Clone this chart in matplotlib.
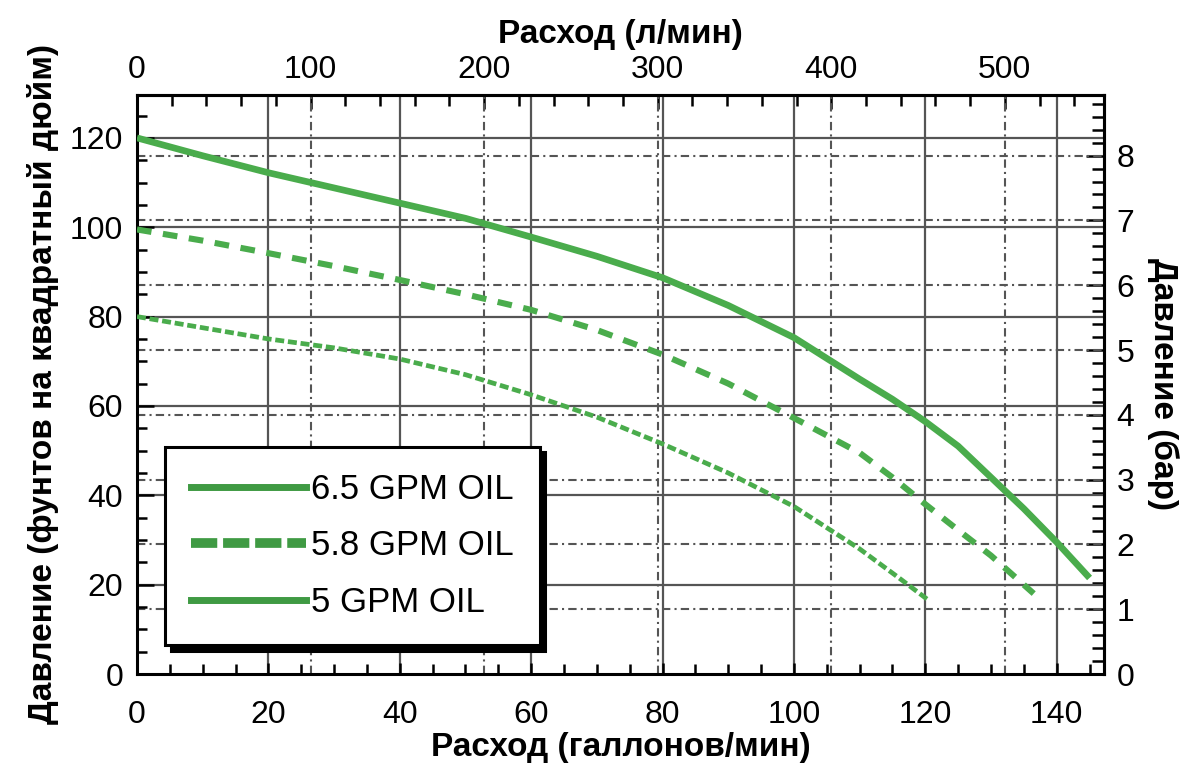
import matplotlib
matplotlib.use("Agg")
import matplotlib.pyplot as plt
from matplotlib.lines import Line2D
import numpy as np

# ---------------- data ----------------
gpm_65 = [0, 10, 20, 30, 40, 50, 60, 70, 80, 90, 100, 110, 115, 120, 125, 130, 135, 140, 145]
psi_65 = [120, 116, 112.2, 108.8, 105.4, 102, 97.8, 93.5, 88.7, 82.5, 75.3, 66, 61.5, 56.5, 51, 44, 37, 29.5, 21.5]

gpm_58 = [0, 10, 20, 30, 40, 50, 60, 70, 80, 90, 100, 110, 115, 120, 125, 130, 136.5]
psi_58 = [99.5, 97, 94.2, 91.3, 88.2, 85, 81.5, 77, 71.5, 65, 57.3, 49.5, 44, 38, 32.2, 26.5, 18]

gpm_50 = [0, 10, 20, 30, 40, 50, 60, 70, 80, 90, 100, 110, 116, 120.5]
psi_50 = [80, 77.5, 75, 73, 70.5, 67, 62.5, 57.5, 51.5, 45, 37.5, 28, 21.5, 16.5]

labels = ["6.5 GPM OIL", "5.8 GPM OIL", "5 GPM OIL"]

gpm_ticks = [0, 20, 40, 60, 80, 100, 120, 140]
psi_ticks = [0, 20, 40, 60, 80, 100, 120]
lpm_ticks = [0, 100, 200, 300, 400, 500]
bar_ticks = [0, 1, 2, 3, 4, 5, 6, 7, 8]

LPM_PER_GPM = 3.785
PSI_PER_BAR = 14.5038

# ---------------- styling ----------------
green = "#4aac4c"
green_leg = "#3f9a43"
gridc = "#555555"
tick_font = ["Liberation Sans", "DejaVu Sans"]
lab_font = ["Liberation Sans Narrow", "Liberation Sans", "DejaVu Sans"]
TS = 23

fig = plt.figure(figsize=(11.88, 7.66), dpi=100)
ax = fig.add_axes([0.1153, 0.1201, 0.8140, 0.7559])
ax.set_xlim(0, 147.2)
ax.set_ylim(0, 129.6)

# solid major grid
for g in gpm_ticks[1:]:
    ax.axvline(g, color=gridc, lw=1.6, zorder=1)
for p in psi_ticks[1:]:
    ax.axhline(p, color=gridc, lw=1.6, zorder=1)
# dash-dot grid from secondary scales
dd = (0, (4, 2, 1, 2))
for l in lpm_ticks[1:]:
    ax.axvline(l / LPM_PER_GPM, color=gridc, lw=1.5, ls=dd, zorder=1)
for b in bar_ticks[1:]:
    ax.axhline(b * PSI_PER_BAR, color=gridc, lw=1.5, ls=dd, zorder=1)

# curves
ax.plot(gpm_65, psi_65, color=green, lw=4.8, solid_capstyle="butt", zorder=3)
ax.plot(gpm_58, psi_58, color=green, lw=4.4, ls=(0, (2.4, 1.9)), zorder=3)
ax.plot(gpm_50, psi_50, color=green, lw=3.4, ls=(0, (1.9, 0.8)), zorder=3)

# spines
for s in ax.spines.values():
    s.set_linewidth(2.2)
    s.set_color("black")

# primary ticks
ax.set_xticks(gpm_ticks)
ax.set_yticks(psi_ticks)
ax.set_xticks(np.arange(0, 147.2, 5), minor=True)
ax.set_yticks(np.arange(0, 129.6, 5), minor=True)
ax.tick_params(axis="both", which="both", direction="in", width=1.8, colors="black")
ax.tick_params(axis="x", which="major", length=8, pad=19, labelsize=TS)
ax.tick_params(axis="x", which="minor", length=7)
ax.tick_params(axis="y", which="major", length=12, pad=10, labelsize=TS)
ax.tick_params(axis="y", which="minor", length=7)
for t in ax.get_xticklabels() + ax.get_yticklabels():
    t.set_family(tick_font)

# secondary axes
secx = ax.secondary_xaxis("top", functions=(lambda x: x * LPM_PER_GPM, lambda x: x / LPM_PER_GPM))
secx.set_xticks(lpm_ticks)
secx.set_xticks(np.arange(0, 560, 20), minor=True)
secx.tick_params(axis="x", which="both", direction="in", width=1.8)
secx.tick_params(axis="x", which="major", length=10, pad=7, labelsize=TS)
secx.tick_params(axis="x", which="minor", length=8)
secx.spines["top"].set_linewidth(2.2)
for t in secx.get_xticklabels():
    t.set_family(tick_font)

secy = ax.secondary_yaxis("right", functions=(lambda y: y / PSI_PER_BAR, lambda y: y * PSI_PER_BAR))
secy.set_yticks(bar_ticks)
secy.set_yticks(np.arange(0, 9.0, 0.2), minor=True)
secy.tick_params(axis="y", which="both", direction="in", width=1.8)
secy.tick_params(axis="y", which="major", length=13, pad=9, labelsize=TS)
secy.tick_params(axis="y", which="minor", length=9)
secy.spines["right"].set_linewidth(2.2)
for t in secy.get_yticklabels():
    t.set_family(tick_font)

# labels
lab_kw = dict(fontsize=24, fontweight="bold", family=lab_font)
ax.set_xlabel("Расход (галлонов/мин)", labelpad=1, **lab_kw)
ax.set_ylabel("Давление (фунтов на квадратный дюйм)", labelpad=8, **lab_kw)
secx.set_xlabel("Расход (л/мин)", labelpad=9, **lab_kw)
secy.set_ylabel("Давление (бар)", rotation=270, labelpad=32, **lab_kw)

# legend
handles = [
    Line2D([], [], color=green_leg, lw=5),
    Line2D([], [], color=green_leg, lw=7, ls=(0, (2.7, 0.6))),
    Line2D([], [], color=green_leg, lw=5),
]
leg = ax.legend(handles, labels, loc="lower left", bbox_to_anchor=(0.029, 0.05),
                prop={"family": tick_font, "size": 25}, handlelength=3.3,
                handletextpad=0.15, labelspacing=0.68, borderpad=0.75,
                fancybox=False, framealpha=1, edgecolor="black",
                shadow={"color": "black", "alpha": 1, "ox": 4, "oy": -4},
                borderaxespad=0)
leg.get_frame().set_linewidth(2.2)
leg.set_zorder(5)

fig.savefig("out.png", dpi=100, facecolor="white")
